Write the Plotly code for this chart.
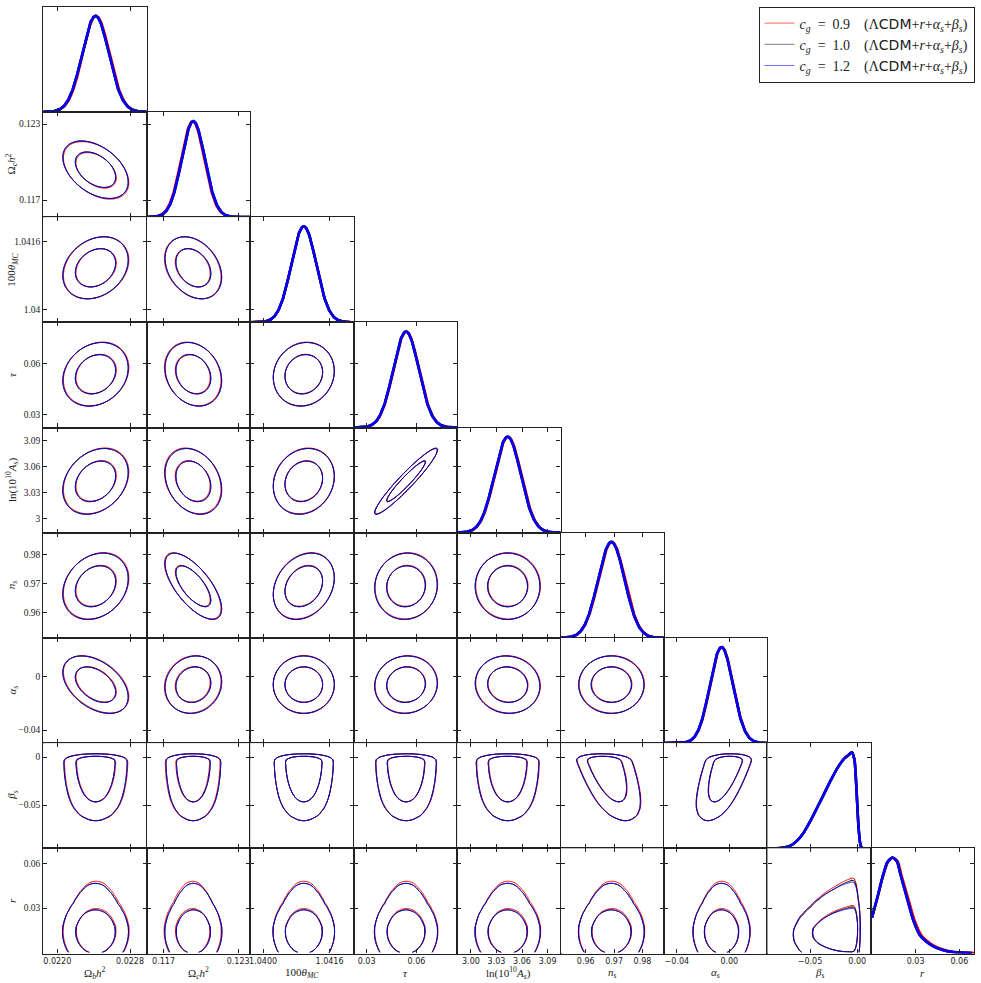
import numpy as np
import plotly.graph_objects as go

W, H = 981, 983

# ---- parameters, axis ranges and ticks ----
labels = [
    "Ω<sub><i>b</i></sub><i>h</i><sup>2</sup>",
    "Ω<sub><i>c</i></sub><i>h</i><sup>2</sup>",
    "100<i>θ</i><sub><i>MC</i></sub>",
    "<i>τ</i>",
    "ln(10<sup>10</sup><i>A</i><sub><i>s</i></sub>)",
    "<i>n</i><sub><i>s</i></sub>",
    "<i>α</i><sub><i>s</i></sub>",
    "<i>β</i><sub><i>s</i></sub>",
    "<i>r</i>",
]
lo = [0.021846, 0.11565, 1.03969, 0.0222, 2.9838, 0.9511, -0.0498, -0.0951, -0.0007]
hi = [0.022984, 0.12397, 1.04218, 0.0845, 3.1052, 0.9876, 0.0291, 0.0145, 0.0703]
tick_vals = [[0.0220, 0.0228], [0.117, 0.123], [1.04, 1.0416], [0.03, 0.06],
             [3.0, 3.03, 3.06, 3.09], [0.96, 0.97, 0.98], [-0.04, 0.0], [-0.05, 0.0], [0.03, 0.06]]
xtick_text = [["0.0220", "0.0228"], ["0.117", "0.123"], ["1.0400", "1.0416"], ["0.03", "0.06"],
              ["3.00", "3.03", "3.06", "3.09"], ["0.96", "0.97", "0.98"], ["\u22120.04", "0.00"],
              ["\u22120.05", "0.00"], ["0.03", "0.06"]]
ytick_text = [[], ["0.117", "0.123"], ["1.04", "1.0416"], ["0.03", "0.06"],
              ["3", "3.03", "3.06", "3.09"], ["0.96", "0.97", "0.98"], ["\u22120.04", "0"],
              ["\u22120.05", "0"], ["0.03", "0.06"]]

# ---- posterior summaries (gaussian-like parameters) ----
mean = [0.02242, 0.1194, 1.04098, 0.0537, 3.043, 0.969, -0.006]
sigma = [0.000147, 0.00093, 0.0003, 0.0077, 0.0155, 0.0047, 0.0088]
corr = {
    (1, 0): -0.43,
    (2, 0): 0.25, (2, 1): -0.30,
    (3, 0): 0.20, (3, 1): -0.20, (3, 2): 0.10,
    (4, 0): 0.27, (4, 1): -0.25, (4, 2): 0.15, (4, 3): 0.95,
    (5, 0): 0.23, (5, 1): -0.68, (5, 2): 0.25, (5, 3): 0.05, (5, 4): 0.0,
    (6, 0): -0.43, (6, 1): 0.10, (6, 2): 0.0, (6, 3): 0.05, (6, 4): -0.05, (6, 5): 0.0,
}
beta_slope = [0.0, 0.0, 0.0, 0.0, 0.0, -0.12, 0.25]  # shift of each param with beta_s
beta_sd = 0.019
beta_mid = -0.025

# non-gaussian marginals, digitised
beta_x = [-0.095, -0.0814, -0.0707, -0.0636, -0.0564, -0.0493, -0.0421, -0.035, -0.0279, -0.0207,
          -0.0136, -0.0093, -0.0057, -0.0029, -0.0007, 0.0014, 0.0036, 0.006, 0.0145]
beta_p = [0.0, 0.003, 0.028, 0.08, 0.168, 0.29, 0.43, 0.57, 0.71, 0.84,
          0.937, 0.97, 1.0, 0.92, 0.60, 0.22, 0.03, 0.0, 0.0]
r_x = [0.0, 0.0038, 0.0072, 0.0105, 0.0139, 0.0172, 0.0195, 0.0239, 0.0284, 0.0329, 0.0374,
       0.0418, 0.0485, 0.0553, 0.0687]
r_p = [0.373, 0.587, 0.793, 0.948, 1.0, 0.959, 0.828, 0.587, 0.346, 0.191, 0.122,
       0.077, 0.036, 0.015, 0.005]

# ---- chains ----
tail = "\u2003(Λ<span style='font-family:DejaVu Sans'>CDM</span>+<i>r</i>+<i>α<sub>s</sub></i>+<i>β<sub>s</sub></i>)"
series_names = ["<i>c<sub>g</sub></i>\u2002=\u20020.9" + tail,
                "<i>c<sub>g</sub></i>\u2002=\u20021.0" + tail,
                "<i>c<sub>g</sub></i>\u2002=\u20021.2" + tail]
series_colors = ["#ff0000", "#000000", "#0000ff"]
legend_colors = ["#ff6060", "#808080", "#7070ff"]
mean_shift = [[0.05, -0.06, 0.0, 0.03, 0.04, 0.04, 0.03],
              [0.0, 0.0, 0.0, 0.0, 0.0, 0.0, 0.0],
              [0.0, 0.0, 0.0, 0.0, 0.0, 0.0, 0.0]]
r_stretch = [1.03, 1.0, 1.0]
beta_r_link = [4.5, 4.5, 3.0]     # how fast the r spread grows with beta_s
beta_r_pivot = -0.03

NP = len(labels)
X0, CW = 43.3, 103.45
Y0, RH = 6.7, 105.2
PEAK = 1.096
N = 110


def gauss(x, m, s):
    return np.exp(-0.5 * ((x - m) / s) ** 2)


def f_beta(b):
    return np.interp(b, beta_x, beta_p, left=0.0, right=0.0)


def f_r(r, s):
    return np.interp(r, np.array(r_x) * r_stretch[s], r_p, left=0.0, right=0.0)


def mu(i, s):
    return mean[i] + mean_shift[s][i] * sigma[i]


def hpd_levels(Z):
    flat = np.sort(Z.ravel())[::-1]
    cum = np.cumsum(flat)
    cum /= cum[-1]
    return flat[np.searchsorted(cum, 0.68)], flat[np.searchsorted(cum, 0.95)]


def density(i, j, s):
    # x = column parameter i, y = row parameter j
    if j <= 6:
        mi, mj = mu(i, s), mu(j, s)
        xg = np.linspace(mi - 3.8 * sigma[i], mi + 3.8 * sigma[i], N)
        yg = np.linspace(mj - 3.8 * sigma[j], mj + 3.8 * sigma[j], N)
        X, Y = np.meshgrid(xg, yg)
        u = (X - mi) / sigma[i]
        v = (Y - mj) / sigma[j]
        rho = corr[(j, i)]
        Z = np.exp(-(u * u - 2 * rho * u * v + v * v) / (2 * (1 - rho * rho)))
    elif j == 7:
        mi = mu(i, s)
        k = beta_slope[i]
        sc = np.sqrt(sigma[i] ** 2 - (k * beta_sd) ** 2)
        xg = np.linspace(mi - 4.2 * sigma[i], mi + 4.2 * sigma[i], N)
        yg = np.linspace(-0.1, 0.008, N)
        X, Y = np.meshgrid(xg, yg)
        Z = f_beta(Y) * gauss(X, mi + k * (Y - beta_mid), sc)
    elif i <= 6:
        mi = mu(i, s)
        xg = np.linspace(mi - 3.8 * sigma[i], mi + 3.8 * sigma[i], N)
        yg = np.linspace(0.0, 0.075, N)
        X, Y = np.meshgrid(xg, yg)
        Z = f_r(Y, s) * gauss(X, mi, sigma[i])
    else:
        xg = np.linspace(-0.115, 0.008, N)
        yg = np.linspace(0.0, 0.075, N)
        X, Y = np.meshgrid(xg, yg)
        sp = np.exp(beta_r_link[s] * (X - beta_r_pivot))
        Z = f_beta(X) * f_r(Y / sp, s) / sp
    Z = Z / Z.max()
    l68, l95 = hpd_levels(Z)
    return xg, yg, Z.astype(np.float32), l68, l95


fig = go.Figure()
layout = {}
annotations = []
idx = 0
for row in range(NP):
    for col in range(row + 1):
        idx += 1
        xa = "x" if idx == 1 else f"x{idx}"
        ya = "y" if idx == 1 else f"y{idx}"
        xl = X0 + col * CW
        yt = Y0 + row * RH
        xdom = [xl / W, (xl + CW) / W]
        ydom = [1 - (yt + RH) / H, 1 - yt / H]

        axis_common = dict(showline=True, linecolor="#222", linewidth=1.2, mirror="allticks",
                           ticks="inside", ticklen=4, tickwidth=1, tickcolor="#222",
                           showgrid=False, zeroline=False, fixedrange=True)
        xaxis = dict(axis_common, domain=xdom, anchor=ya, range=[lo[col], hi[col]],
                     tickmode="array", tickvals=tick_vals[col], ticktext=xtick_text[col],
                     showticklabels=(row == NP - 1),
                     tickfont=dict(family="DejaVu Sans", size=8, color="#222"))
        if row == col:
            yv = [(t - lo[row]) / (hi[row] - lo[row]) * PEAK for t in tick_vals[row]] if row > 0 else []
            yaxis = dict(axis_common, domain=ydom, anchor=xa, range=[0, PEAK],
                         tickmode="array", tickvals=yv, showticklabels=False)
        else:
            yaxis = dict(axis_common, domain=ydom, anchor=xa, range=[lo[row], hi[row]],
                         tickmode="array", tickvals=tick_vals[row], ticktext=ytick_text[row],
                         showticklabels=(col == 0),
                         tickfont=dict(family="Liberation Serif", size=9.5, color="#222"))
        layout["xaxis" if idx == 1 else f"xaxis{idx}"] = xaxis
        layout["yaxis" if idx == 1 else f"yaxis{idx}"] = yaxis

        if row == col:
            for s in range(3):
                if row <= 6:
                    xs = np.linspace(lo[row], hi[row], 240)
                    ys = gauss(xs, mu(row, s), sigma[row])
                    shape = "linear"
                elif row == 7:
                    xs, ys, shape = beta_x, beta_p, "spline"
                else:
                    xs = list(np.array(r_x) * r_stretch[s])
                    ys, shape = r_p, "spline"
                fig.add_trace(go.Scatter(x=xs, y=ys, mode="lines", xaxis=xa, yaxis=ya,
                                         line=dict(color=series_colors[s], width=2.6, shape=shape,
                                                   smoothing=0.6),
                                         showlegend=False, hoverinfo="skip"))
        else:
            for s in range(3):
                xg, yg, Z, l68, l95 = density(col, row, s)
                c = series_colors[s]
                fig.add_trace(go.Contour(x=xg, y=yg, z=Z, xaxis=xa, yaxis=ya,
                                         autocontour=False,
                                         contours=dict(start=l95, end=l68 + 0.01 * (l68 - l95),
                                                       size=l68 - l95, coloring="lines"),
                                         colorscale=[[0, c], [1, c]], showscale=False,
                                         line=dict(width=1.0, smoothing=1.0),
                                         opacity=0.85 if s == 2 else 1.0,
                                         hoverinfo="skip", showlegend=False))

        if row == NP - 1:
            annotations.append(dict(text=labels[col], xref="paper", yref="paper",
                                    x=(xl + CW / 2) / W, y=1 - 973 / H, showarrow=False,
                                    font=dict(family="Liberation Serif", size=11, color="#222"),
                                    xanchor="center", yanchor="middle"))
        if col == 0 and row > 0:
            annotations.append(dict(text=labels[row], xref="paper", yref="paper",
                                    x=12 / W, y=1 - (yt + RH / 2) / H, showarrow=False,
                                    textangle=-90,
                                    font=dict(family="Liberation Serif", size=11, color="#222"),
                                    xanchor="center", yanchor="middle"))

for s in range(3):
    fig.add_trace(go.Scatter(x=[None], y=[None], mode="lines", xaxis="x", yaxis="y",
                             name=series_names[s],
                             line=dict(color=legend_colors[s], width=1)))

fig.update_layout(**layout)
fig.update_layout(
    width=W, height=H,
    margin=dict(l=0, r=0, t=0, b=0),
    paper_bgcolor="white", plot_bgcolor="white",
    annotations=annotations,
    showlegend=True,
    legend=dict(x=974.5 / W, y=1 - 6.5 / H, xanchor="right", yanchor="top",
                bordercolor="#222", borderwidth=1, bgcolor="white",
                font=dict(family="Liberation Serif", size=14, color="#222"),
                tracegroupgap=0, itemwidth=30),
)

# page body margin would push the figure 8px off; remove it
fig.write_html("out.html", config={"displayModeBar": False},
               post_script="document.body.style.margin='0';")
